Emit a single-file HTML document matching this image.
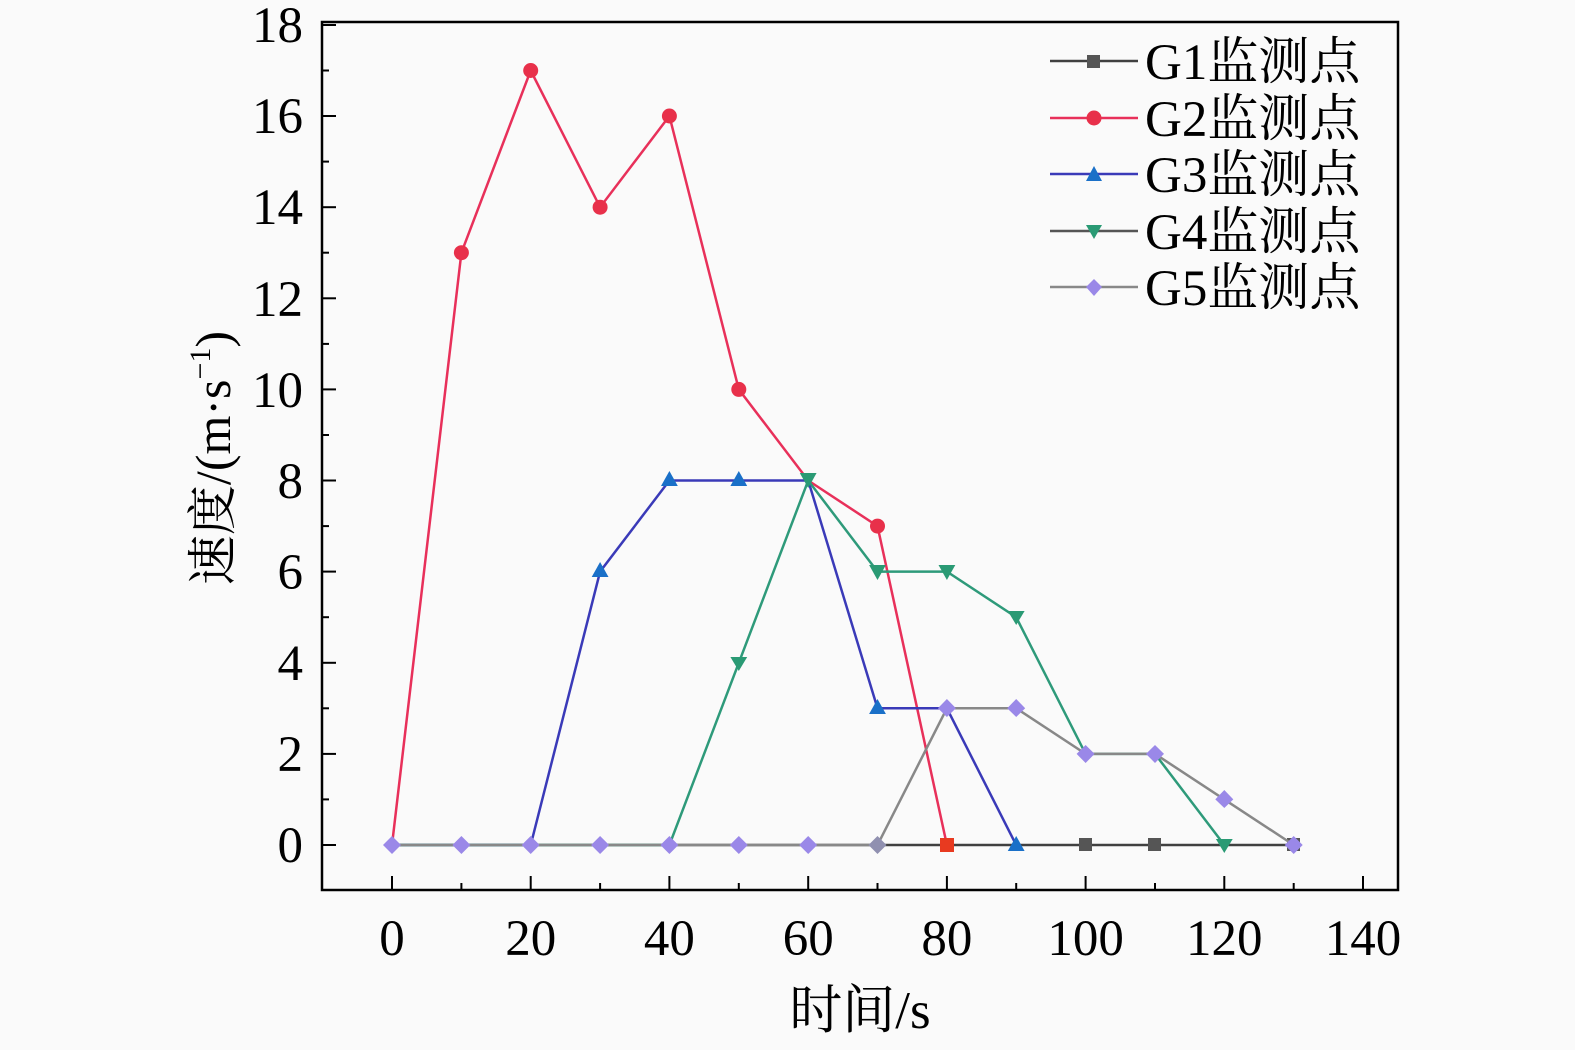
<!DOCTYPE html>
<html><head><meta charset="utf-8"><style>
html,body{margin:0;padding:0;background:#fafafa;}
svg{display:block;}
text{font-family:"Liberation Serif","Noto Serif CJK SC",serif;fill:#000;}
</style></head><body>
<svg width="1575" height="1050" viewBox="0 0 1575 1050" xmlns="http://www.w3.org/2000/svg">
<rect width="1575" height="1050" fill="#fafafa"/>
<rect x="322" y="22" width="1076" height="868" fill="none" stroke="#000" stroke-width="2.5"/>
<g stroke="#000" stroke-width="2">
<line x1="392" y1="890" x2="392" y2="876"/><line x1="461.4" y1="890" x2="461.4" y2="883"/>
<line x1="530.7" y1="890" x2="530.7" y2="876"/><line x1="600.1" y1="890" x2="600.1" y2="883"/>
<line x1="669.4" y1="890" x2="669.4" y2="876"/><line x1="738.8" y1="890" x2="738.8" y2="883"/>
<line x1="808.2" y1="890" x2="808.2" y2="876"/><line x1="877.5" y1="890" x2="877.5" y2="883"/>
<line x1="946.9" y1="890" x2="946.9" y2="876"/><line x1="1016.2" y1="890" x2="1016.2" y2="883"/>
<line x1="1085.6" y1="890" x2="1085.6" y2="876"/><line x1="1155" y1="890" x2="1155" y2="883"/>
<line x1="1224.3" y1="890" x2="1224.3" y2="876"/><line x1="1293.7" y1="890" x2="1293.7" y2="883"/>
<line x1="1363" y1="890" x2="1363" y2="876"/>
<line x1="322" y1="845" x2="336" y2="845"/><line x1="322" y1="799.4" x2="329" y2="799.4"/>
<line x1="322" y1="753.9" x2="336" y2="753.9"/><line x1="322" y1="708.3" x2="329" y2="708.3"/>
<line x1="322" y1="662.8" x2="336" y2="662.8"/><line x1="322" y1="617.2" x2="329" y2="617.2"/>
<line x1="322" y1="571.6" x2="336" y2="571.6"/><line x1="322" y1="526.1" x2="329" y2="526.1"/>
<line x1="322" y1="480.5" x2="336" y2="480.5"/><line x1="322" y1="435" x2="329" y2="435"/>
<line x1="322" y1="389.4" x2="336" y2="389.4"/><line x1="322" y1="343.9" x2="329" y2="343.9"/>
<line x1="322" y1="298.3" x2="336" y2="298.3"/><line x1="322" y1="252.7" x2="329" y2="252.7"/>
<line x1="322" y1="207.2" x2="336" y2="207.2"/><line x1="322" y1="161.6" x2="329" y2="161.6"/>
<line x1="322" y1="116" x2="336" y2="116"/><line x1="322" y1="70.5" x2="329" y2="70.5"/>
<line x1="322" y1="25" x2="336" y2="25"/>
</g>
<g font-size="51" text-anchor="middle">
<text x="392" y="955">0</text><text x="530.7" y="955">20</text><text x="669.4" y="955">40</text>
<text x="808.2" y="955">60</text><text x="946.9" y="955">80</text><text x="1085.6" y="955">100</text>
<text x="1224.3" y="955">120</text><text x="1363" y="955">140</text>
</g>
<g font-size="51" text-anchor="end">
<text x="303" y="862">0</text><text x="303" y="771">2</text><text x="303" y="680">4</text>
<text x="303" y="589">6</text><text x="303" y="498">8</text><text x="303" y="407">10</text>
<text x="303" y="316">12</text><text x="303" y="224">14</text><text x="303" y="133">16</text>
<text x="303" y="42">18</text>
</g>
<text x="860" y="1028" font-size="53" text-anchor="middle">时间/s</text>
<text transform="translate(230,458) rotate(-90)" font-size="50" text-anchor="middle">速度/(m·s<tspan font-size="30" dy="-20">−1</tspan><tspan dy="20">)</tspan></text>

<polyline fill="none" stroke="#404040" stroke-width="2.5" points="392,845 1293.7,845"/>
<g fill="#555">
<rect x="1079" y="838" width="13" height="13"/><rect x="1148" y="838" width="13" height="13"/>
<rect x="1287" y="838" width="13" height="13"/>
</g>
<polyline fill="none" stroke="#e8305a" stroke-width="2.5" points="392,845 461.4,252.7 530.7,70.5 600.1,207.2 669.4,116 738.8,389.4 808.2,480.5 877.5,526.1 946.9,845"/>
<g fill="#e8304a">
<circle cx="461.4" cy="252.7" r="7.5"/><circle cx="530.7" cy="70.5" r="7.5"/><circle cx="600.1" cy="207.2" r="7.5"/>
<circle cx="669.4" cy="116" r="7.5"/><circle cx="738.8" cy="389.4" r="7.5"/><circle cx="877.5" cy="526.1" r="7.5"/>
</g>
<rect x="940" y="838" width="14" height="14" fill="#e83a20"/>
<polyline fill="none" stroke="#3a3ab8" stroke-width="2.5" points="392,845 530.7,845 600.1,571.6 669.4,480.5 738.8,480.5 808.2,480.5 877.5,708.3 946.9,708.3 1016.2,845"/>
<g fill="#1a70c8">
<polygon points="600.1,562 608.5,577 591.7,577"/><polygon points="669.4,471 677.8,486 661,486"/>
<polygon points="738.8,471 747.2,486 730.4,486"/><polygon points="877.5,699 885.9,714 869.1,714"/>
<polygon points="1016.2,836 1024.6,851 1007.8,851"/>
</g>
<polyline fill="none" stroke="#2e9a7a" stroke-width="2.5" points="392,845 669.4,845 738.8,662.8 808.2,480.5 877.5,571.6 946.9,571.6 1016.2,617.2 1085.6,753.9 1155,753.9 1224.3,845"/>
<g fill="#2a9a74">
<polygon points="730.4,657 747.2,657 738.8,671"/><polygon points="799.8,473 816.6,473 808.2,488"/>
<polygon points="869.1,565 885.9,565 877.5,580"/><polygon points="938.5,565 955.3,565 946.9,580"/>
<polygon points="1007.8,611 1024.6,611 1016.2,625"/><polygon points="1215.9,839 1232.7,839 1224.3,853"/>
</g>
<polyline fill="none" stroke="#888" stroke-width="2.5" points="392,845 877.5,845 946.9,708.3 1016.2,708.3 1085.6,753.9 1155,753.9 1224.3,799.4 1293.7,845"/>
<g fill="#9a88e8">
<polygon points="392,836 401,845 392,854 383,845"/><polygon points="461.4,836 470.4,845 461.4,854 452.4,845"/>
<polygon points="530.7,836 539.7,845 530.7,854 521.7,845"/><polygon points="600.1,836 609.1,845 600.1,854 591.1,845"/>
<polygon points="669.4,836 678.4,845 669.4,854 660.4,845"/><polygon points="738.8,836 747.8,845 738.8,854 729.8,845"/>
<polygon points="808.2,836 817.2,845 808.2,854 799.2,845"/><polygon points="877.5,836 886.5,845 877.5,854 868.5,845" fill="#9090b0"/>
<polygon points="946.9,699 955.9,708.3 946.9,717 937.9,708.3"/><polygon points="1016.2,699 1025.2,708.3 1016.2,717 1007.2,708.3"/>
<polygon points="1085.6,745 1094.6,753.9 1085.6,763 1076.6,753.9"/><polygon points="1155,745 1164,753.9 1155,763 1146,753.9"/>
<polygon points="1224.3,790 1233.3,799.4 1224.3,808 1215.3,799.4"/><polygon points="1293.7,836 1302.7,845 1293.7,854 1284.7,845"/>
</g>

<g stroke-width="2.5">
<line x1="1050" y1="61" x2="1138" y2="61" stroke="#404040"/>
<line x1="1050" y1="118" x2="1138" y2="118" stroke="#e8305a"/>
<line x1="1050" y1="174" x2="1138" y2="174" stroke="#3a3ab8"/>
<line x1="1050" y1="231" x2="1138" y2="231" stroke="#555"/>
<line x1="1050" y1="287" x2="1138" y2="287" stroke="#888"/>
</g>
<rect x="1087" y="55" width="13" height="13" fill="#555"/>
<circle cx="1094" cy="118" r="7.5" fill="#e8304a"/>
<polygon points="1094,166 1102,181 1086,181" fill="#1a70c8"/>
<polygon points="1086,225 1102,225 1094,239" fill="#2a9a74"/>
<polygon points="1094,279 1102,287 1094,296 1086,287" fill="#9a88e8"/>
<g font-size="51">
<text x="1145" y="79">G1监测点</text>
<text x="1145" y="136">G2监测点</text>
<text x="1145" y="192">G3监测点</text>
<text x="1145" y="249">G4监测点</text>
<text x="1145" y="305">G5监测点</text>
</g>
</svg>
</body></html>
